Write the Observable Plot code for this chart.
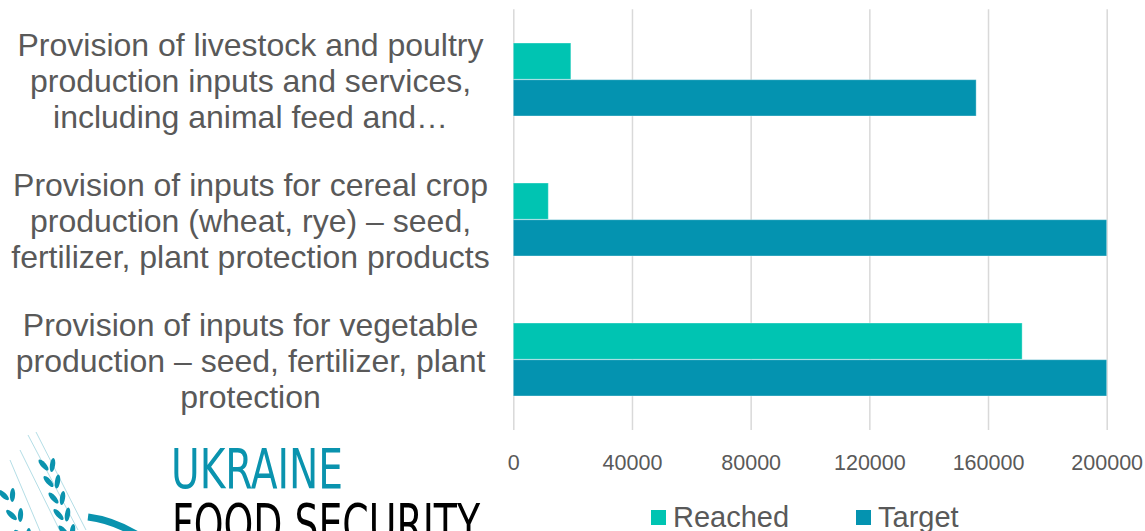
<!DOCTYPE html>
<html>
<head>
<meta charset="utf-8">
<script src="https://cdn.jsdelivr.net/npm/d3@7"></script>
<script src="https://cdn.jsdelivr.net/npm/@observablehq/plot@0.6"></script>
<style>
  html, body { margin: 0; padding: 0; background: #fff; }
  #wrap { position: relative; width: 1145px; height: 531px; overflow: hidden; font-family: "Liberation Sans", Arial, sans-serif; }
  #legend { position: relative; height: 51px; }
  #legend .sw { position: absolute; top: 30px; width: 15px; height: 15px; }
  #legend .lb { position: absolute; top: 22.5px; font-size: 29px; line-height: 29px; color: #595959; white-space: nowrap; }
  #logo { position: absolute; left: 0; top: 420px; }
</style>
</head>
<body>
<div id="wrap">
  <div id="chart"></div>
  <div id="legend"></div>
  <svg id="logo" width="490" height="111" viewBox="0 0 490 111"></svg>
</div>
<script>
// ---- data ----
const categories = [
  "Provision of livestock and poultry\nproduction inputs and services,\nincluding animal feed and…",
  "Provision of inputs for cereal crop\nproduction (wheat, rye) – seed,\nfertilizer, plant protection products",
  "Provision of inputs for vegetable\nproduction – seed, fertilizer, plant\nprotection"
];
const seriesNames = ["Reached", "Target"];
const reached = [19400, 11800, 171500];
const target = [156000, 200000, 200000];
const xTicks = [0, 40000, 80000, 120000, 160000, 200000];
const colors = ["#00C4B2", "#0493B0"];

const data = [];
categories.forEach((c, i) => {
  data.push({category: c, series: seriesNames[0], value: reached[i]});
  data.push({category: c, series: seriesNames[1], value: target[i]});
});

// ---- layout ----
const W = 1145, H = 480;
const mTop = 9.2, mBottom = H - 430.1, mLeft = 513.3, mRight = W - 1106.7;
const padInner = 0.477, padOuter = padInner / 2;
const step = (H - mTop - mBottom) / categories.length;
const half = step * (1 - padInner) / 2;

const chart = Plot.plot({
  width: W,
  height: H,
  marginTop: mTop,
  marginBottom: mBottom,
  marginLeft: mLeft,
  marginRight: mRight,
  style: {fontFamily: "'Liberation Sans', Arial, sans-serif", background: "#fff"},
  x: {domain: [0, 200000], axis: null, label: null},
  y: {domain: categories, paddingInner: padInner, paddingOuter: padOuter, axis: null, label: null},
  color: {domain: seriesNames, range: colors},
  marks: [
    Plot.gridX(xTicks, {stroke: "#d9d9d9", strokeOpacity: 1, strokeWidth: 1.5}),
    Plot.barX(data.filter(d => d.series === "Reached"), {
      x: "value", y: "category", fill: "series", insetBottom: half,
      stroke: "#ffffff", strokeOpacity: 0.35, strokeWidth: 1
    }),
    Plot.barX(data.filter(d => d.series === "Target"), {
      x: "value", y: "category", fill: "series", insetTop: half,
      stroke: "#ffffff", strokeOpacity: 0.35, strokeWidth: 1
    }),
    Plot.axisX(xTicks, {
      tickSize: 0, tickPadding: 24, fontSize: 21.5, color: "#595959",
      tickFormat: d => String(d), label: null
    }),
    Plot.axisY({
      tickSize: 0, tickPadding: 0, textAnchor: "middle", dx: -(mLeft - 250),
      fontSize: 32, lineHeight: 1.125, color: "#595959",
      tickFormat: d => d, label: null
    })
  ]
});
document.getElementById("chart").appendChild(chart);

// ---- legend ----
const legend = document.getElementById("legend");
const legendPos = [{sw: 651, lb: 673}, {sw: 856, lb: 878}];
seriesNames.forEach((s, i) => {
  const sw = document.createElement("div");
  sw.className = "sw";
  sw.style.left = legendPos[i].sw + "px";
  sw.style.background = colors[i];
  legend.appendChild(sw);
  const lb = document.createElement("div");
  lb.className = "lb";
  lb.style.left = legendPos[i].lb + "px";
  lb.textContent = s;
  legend.appendChild(lb);
});

// ---- logo (decoration) ----
const ns = "http://www.w3.org/2000/svg";
const logo = document.getElementById("logo");
function el(tag, attrs, text) {
  const e = document.createElementNS(ns, tag);
  for (const k in attrs) e.setAttribute(k, attrs[k]);
  if (text) e.textContent = text;
  logo.appendChild(e);
  return e;
}
// awns
[[28,15,78,110],[36,12,86,110],[20,30,60,111],[10,40,40,111]].forEach(([x1,y1,x2,y2]) =>
  el("line", {x1, y1, x2, y2, stroke: "#0a93ae", "stroke-width": 1, opacity: 0.3}));
// ear kernels
function ear(x0, y0, x1, y1, n) {
  const ang = Math.atan2(x1 - x0, y1 - y0) * 180 / Math.PI;
  for (let k = 0; k < n; k++) {
    const t = k / (n - 1);
    const cx = x0 + (x1 - x0) * t, cy = y0 + (y1 - y0) * t;
    [-1, 1].forEach(side => {
      el("ellipse", {
        cx: cx + side * 4.5, cy: cy + 3, rx: 2.6, ry: 7, fill: "#0a93ae",
        transform: `rotate(${-ang + side * 25} ${cx + side * 4.5} ${cy + 3})`
      });
    });
  }
}
ear(48, 42, 68, 108, 5);
ear(8, 72, 24, 112, 3);
el("path", {d: "M88,97 Q112,100 136,114", fill: "none", stroke: "#0a93ae", "stroke-width": 7});
el("text", {x: 171, y: 68, "font-family": "'DejaVu Sans Condensed', 'DejaVu Sans', sans-serif", "font-size": 55, fill: "#0a93ae", textLength: 172, lengthAdjust: "spacingAndGlyphs"}, "UKRAINE");
el("text", {x: 172, y: 123, "font-family": "'DejaVu Sans Condensed', 'DejaVu Sans', sans-serif", "font-size": 55, fill: "#000", textLength: 308, lengthAdjust: "spacingAndGlyphs"}, "FOOD SECURITY");
</script>
</body>
</html>
